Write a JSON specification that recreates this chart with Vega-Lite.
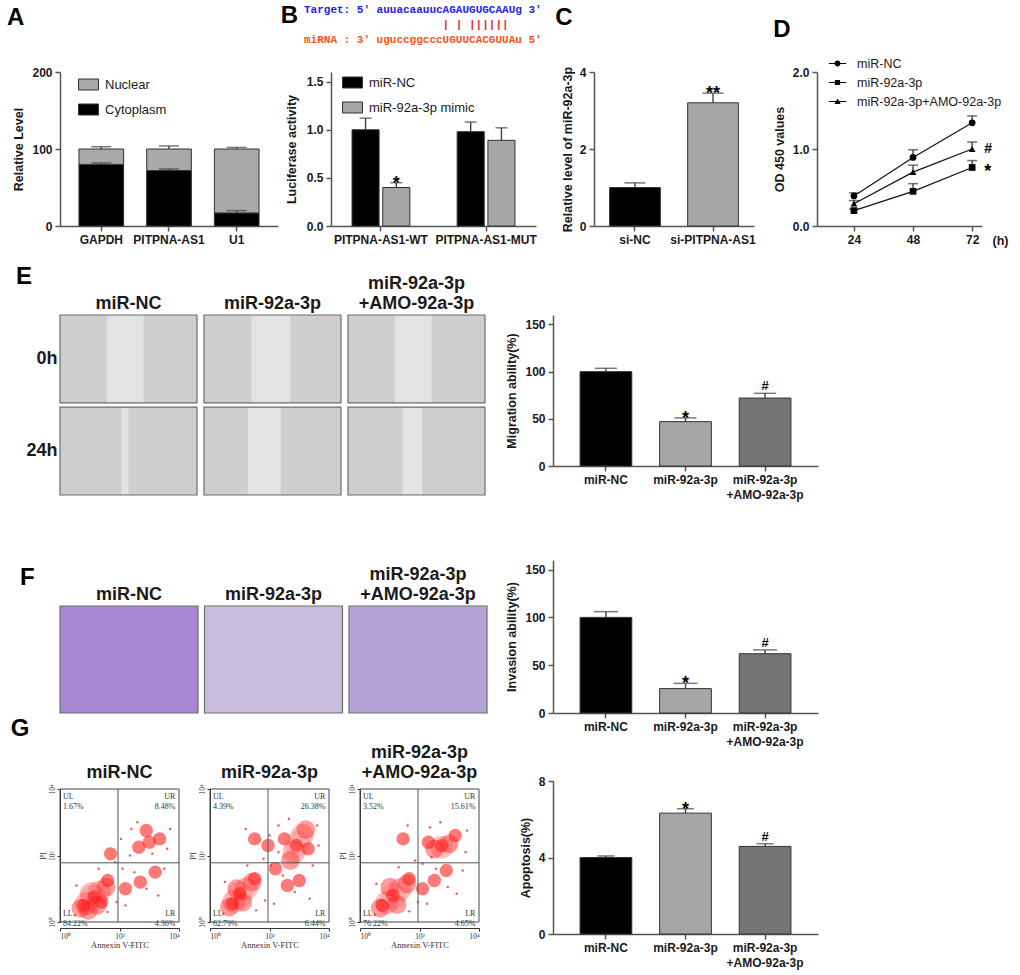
{
  "$schema": "https://vega.github.io/schema/vega-lite/v6.json",
  "padding": {"left": 6, "top": 4, "right": 2, "bottom": 2},
  "background": "white",
  "config": {
    "font": "Liberation Sans",
    "view": {"stroke": null},
    "axis": {"grid": false, "domainColor": "#555555", "tickColor": "#555555", "domainWidth": 1.5, "tickWidth": 1.5, "tickSize": 5, "labelFontWeight": "bold", "labelFontSize": 12, "labelColor": "#1a1a1a", "labelPadding": 3, "titleFontWeight": "bold", "titleFontSize": 12.5, "titleColor": "#1a1a1a", "titlePadding": 6},
    "axisX": {"labelAngle": 0},
    "legend": {"labelFontSize": 13, "labelColor": "#1a1a1a", "labelFontWeight": "normal"},
    "title": {"fontSize": 24, "fontWeight": "bold", "anchor": "start", "frame": "bounds", "color": "#000000"},
    "header": {"labelFontSize": 18, "labelFontWeight": "bold", "labelColor": "#1a1a1a"}
  },
  "datasets": {
    "frac": [
      {"gene": "GAPDH", "fraction": "Cytoplasm", "stack": 1, "level": 80, "top": 80, "upper": 82},
      {"gene": "GAPDH", "fraction": "Nuclear", "stack": 2, "level": 20, "top": 100, "upper": 103},
      {"gene": "PITPNA-AS1", "fraction": "Cytoplasm", "stack": 1, "level": 72, "top": 72, "upper": 74},
      {"gene": "PITPNA-AS1", "fraction": "Nuclear", "stack": 2, "level": 28, "top": 100, "upper": 104},
      {"gene": "U1", "fraction": "Cytoplasm", "stack": 1, "level": 17, "top": 17, "upper": 20},
      {"gene": "U1", "fraction": "Nuclear", "stack": 2, "level": 83, "top": 100, "upper": 102}
    ],
    "seq": [
      {"line": "target", "seq": "Target: 5' auuacaauucAGAUGUGCAAUg 3'"},
      {"line": "pairs", "seq": "| | ||||||"},
      {"line": "mirna", "seq": "miRNA : 3' uguccggcccUGUUCACGUUAu 5'"}
    ],
    "luc": [
      {"construct": "PITPNA-AS1-WT", "group": "miR-NC", "value": 1.0, "upper": 1.12, "sig": ""},
      {"construct": "PITPNA-AS1-WT", "group": "miR-92a-3p mimic", "value": 0.40, "upper": 0.45, "sig": "*"},
      {"construct": "PITPNA-AS1-MUT", "group": "miR-NC", "value": 0.98, "upper": 1.08, "sig": ""},
      {"construct": "PITPNA-AS1-MUT", "group": "miR-92a-3p mimic", "value": 0.89, "upper": 1.02, "sig": ""}
    ],
    "rel": [
      {"group": "si-NC", "value": 1.0, "upper": 1.12, "sig": ""},
      {"group": "si-PITPNA-AS1", "value": 3.2, "upper": 3.45, "sig": "**"}
    ],
    "od": [
      {"series": "miR-NC", "time": 24, "value": 0.39, "upper": 0.43, "sig": ""},
      {"series": "miR-NC", "time": 48, "value": 0.89, "upper": 0.99, "sig": ""},
      {"series": "miR-NC", "time": 72, "value": 1.34, "upper": 1.43, "sig": ""},
      {"series": "miR-92a-3p", "time": 24, "value": 0.20, "upper": 0.22, "sig": ""},
      {"series": "miR-92a-3p", "time": 48, "value": 0.45, "upper": 0.55, "sig": ""},
      {"series": "miR-92a-3p", "time": 72, "value": 0.76, "upper": 0.85, "sig": "*"},
      {"series": "miR-92a-3p+AMO-92a-3p", "time": 24, "value": 0.29, "upper": 0.33, "sig": ""},
      {"series": "miR-92a-3p+AMO-92a-3p", "time": 48, "value": 0.70, "upper": 0.79, "sig": ""},
      {"series": "miR-92a-3p+AMO-92a-3p", "time": 72, "value": 1.00, "upper": 1.09, "sig": "#"}
    ],
    "mig": [
      {"group": "miR-NC", "value": 100, "upper": 103.5, "sig": ""},
      {"group": "miR-92a-3p", "value": 47, "upper": 51, "sig": "*"},
      {"group": "miR-92a-3p +AMO-92a-3p", "value": 72, "upper": 77, "sig": "#"}
    ],
    "inv": [
      {"group": "miR-NC", "value": 100, "upper": 106, "sig": ""},
      {"group": "miR-92a-3p", "value": 25.5, "upper": 31, "sig": "*"},
      {"group": "miR-92a-3p +AMO-92a-3p", "value": 62, "upper": 66, "sig": "#"}
    ],
    "apo": [
      {"group": "miR-NC", "value": 4.0, "upper": 4.08, "sig": ""},
      {"group": "miR-92a-3p", "value": 6.32, "upper": 6.55, "sig": "*"},
      {"group": "miR-92a-3p +AMO-92a-3p", "value": 4.58, "upper": 4.72, "sig": "#"}
    ],
    "imgE": [
      {"group": "miR-NC", "time": "0h", "b0": 0.34, "b1": 0.61},
      {"group": "miR-92a-3p", "time": "0h", "b0": 0.345, "b1": 0.63},
      {"group": "miR-92a-3p +AMO-92a-3p", "time": "0h", "b0": 0.34, "b1": 0.61},
      {"group": "miR-NC", "time": "24h", "b0": 0.45, "b1": 0.5},
      {"group": "miR-92a-3p", "time": "24h", "b0": 0.32, "b1": 0.56},
      {"group": "miR-92a-3p +AMO-92a-3p", "time": "24h", "b0": 0.4, "b1": 0.54}
    ],
    "imgF": [
      {"group": "miR-NC"},
      {"group": "miR-92a-3p"},
      {"group": "miR-92a-3p +AMO-92a-3p"}
    ],
    "flow": [
      {"g": "miR-NC", "k": "quad", "x": 1.95, "y": 1.78},
      {"g": "miR-NC", "k": "lab", "side": "l", "x": 0.1, "y": 3.76, "t": "UL\n1.67%"},
      {"g": "miR-NC", "k": "lab", "side": "r", "x": 3.88, "y": 3.76, "t": "UR\n8.48%"},
      {"g": "miR-NC", "k": "lab", "side": "l", "x": 0.1, "y": 0.25, "t": "LL\n84.22%"},
      {"g": "miR-NC", "k": "lab", "side": "r", "x": 3.88, "y": 0.25, "t": "LR\n4.36%"},
      {"g": "miR-NC", "k": "dot", "d": "h", "x": 1.15, "y": 0.75},
      {"g": "miR-NC", "k": "dot", "d": "h", "x": 0.8, "y": 0.5},
      {"g": "miR-NC", "k": "dot", "d": "h", "x": 1.6, "y": 1.25},
      {"g": "miR-NC", "k": "dot", "d": "h", "x": 1.4, "y": 0.6},
      {"g": "miR-NC", "k": "dot", "d": "h", "x": 3.0, "y": 2.4},
      {"g": "miR-NC", "k": "dot", "d": "h", "x": 2.65, "y": 2.25},
      {"g": "miR-NC", "k": "dot", "d": "h", "x": 3.35, "y": 2.5},
      {"g": "miR-NC", "k": "dot", "d": "h", "x": 2.9, "y": 2.75},
      {"g": "miR-NC", "k": "dot", "d": "h", "x": 2.7, "y": 1.2},
      {"g": "miR-NC", "k": "dot", "d": "h", "x": 3.2, "y": 1.5},
      {"g": "miR-NC", "k": "dot", "d": "h", "x": 1.7, "y": 2.05},
      {"g": "miR-NC", "k": "dot", "d": "h", "x": 2.2, "y": 1.0},
      {"g": "miR-NC", "k": "dot", "d": "m", "x": 0.7, "y": 0.42},
      {"g": "miR-NC", "k": "dot", "d": "m", "x": 1.55, "y": 1.05},
      {"g": "miR-NC", "k": "dot", "d": "m", "x": 1.25, "y": 0.5},
      {"g": "miR-NC", "k": "dot", "d": "m", "x": 0.95, "y": 0.35},
      {"g": "miR-NC", "k": "dot", "d": "c", "x": 0.88, "y": 0.55},
      {"g": "miR-NC", "k": "dot", "d": "c", "x": 1.32, "y": 0.9},
      {"g": "miR-NC", "k": "dot", "d": "c", "x": 1.05, "y": 0.85},
      {"g": "miR-NC", "k": "dot", "d": "k", "x": 1.1, "y": 0.72},
      {"g": "miR-NC", "k": "dot", "d": "s", "x": 2.1, "y": 1.6},
      {"g": "miR-NC", "k": "dot", "d": "s", "x": 2.35, "y": 2.0},
      {"g": "miR-NC", "k": "dot", "d": "s", "x": 2.5, "y": 1.5},
      {"g": "miR-NC", "k": "dot", "d": "s", "x": 3.6, "y": 2.2},
      {"g": "miR-NC", "k": "dot", "d": "s", "x": 3.7, "y": 2.8},
      {"g": "miR-NC", "k": "dot", "d": "s", "x": 2.4, "y": 2.8},
      {"g": "miR-NC", "k": "dot", "d": "s", "x": 1.3, "y": 1.6},
      {"g": "miR-NC", "k": "dot", "d": "s", "x": 1.85, "y": 1.8},
      {"g": "miR-NC", "k": "dot", "d": "s", "x": 2.9, "y": 1.0},
      {"g": "miR-NC", "k": "dot", "d": "s", "x": 3.3, "y": 0.8},
      {"g": "miR-NC", "k": "dot", "d": "s", "x": 2.2, "y": 0.5},
      {"g": "miR-NC", "k": "dot", "d": "s", "x": 0.55, "y": 1.1},
      {"g": "miR-NC", "k": "dot", "d": "s", "x": 1.9, "y": 0.6},
      {"g": "miR-NC", "k": "dot", "d": "s", "x": 3.5, "y": 1.6},
      {"g": "miR-NC", "k": "dot", "d": "s", "x": 2.6, "y": 3.0},
      {"g": "miR-NC", "k": "dot", "d": "s", "x": 3.1, "y": 2.05},
      {"g": "miR-NC", "k": "dot", "d": "s", "x": 2.05, "y": 2.5},
      {"g": "miR-NC", "k": "dot", "d": "s", "x": 0.5, "y": 0.2},
      {"g": "miR-NC", "k": "dot", "d": "s", "x": 1.6, "y": 0.3},
      {"g": "miR-92a-3p", "k": "quad", "x": 1.95, "y": 1.78},
      {"g": "miR-92a-3p", "k": "lab", "side": "l", "x": 0.1, "y": 3.76, "t": "UL\n4.39%"},
      {"g": "miR-92a-3p", "k": "lab", "side": "r", "x": 3.88, "y": 3.76, "t": "UR\n26.38%"},
      {"g": "miR-92a-3p", "k": "lab", "side": "l", "x": 0.1, "y": 0.25, "t": "LL\n62.79%"},
      {"g": "miR-92a-3p", "k": "lab", "side": "r", "x": 3.88, "y": 0.25, "t": "LR\n6.44%"},
      {"g": "miR-92a-3p", "k": "dot", "d": "h", "x": 1.0, "y": 0.85},
      {"g": "miR-92a-3p", "k": "dot", "d": "h", "x": 0.75, "y": 0.55},
      {"g": "miR-92a-3p", "k": "dot", "d": "h", "x": 1.5, "y": 1.3},
      {"g": "miR-92a-3p", "k": "dot", "d": "h", "x": 2.9, "y": 2.3},
      {"g": "miR-92a-3p", "k": "dot", "d": "h", "x": 2.5, "y": 2.5},
      {"g": "miR-92a-3p", "k": "dot", "d": "h", "x": 3.3, "y": 2.2},
      {"g": "miR-92a-3p", "k": "dot", "d": "h", "x": 1.5, "y": 2.5},
      {"g": "miR-92a-3p", "k": "dot", "d": "h", "x": 1.95, "y": 2.3},
      {"g": "miR-92a-3p", "k": "dot", "d": "h", "x": 2.6, "y": 1.1},
      {"g": "miR-92a-3p", "k": "dot", "d": "h", "x": 3.0, "y": 1.25},
      {"g": "miR-92a-3p", "k": "dot", "d": "h", "x": 2.2, "y": 1.6},
      {"g": "miR-92a-3p", "k": "dot", "d": "m", "x": 0.65, "y": 0.45},
      {"g": "miR-92a-3p", "k": "dot", "d": "m", "x": 1.42, "y": 1.2},
      {"g": "miR-92a-3p", "k": "dot", "d": "m", "x": 1.1, "y": 0.6},
      {"g": "miR-92a-3p", "k": "dot", "d": "m", "x": 2.7, "y": 1.85},
      {"g": "miR-92a-3p", "k": "dot", "d": "m", "x": 3.22, "y": 2.78},
      {"g": "miR-92a-3p", "k": "dot", "d": "m", "x": 0.9, "y": 1.0},
      {"g": "miR-92a-3p", "k": "dot", "d": "c", "x": 0.8, "y": 0.62},
      {"g": "miR-92a-3p", "k": "dot", "d": "c", "x": 1.22, "y": 1.0},
      {"g": "miR-92a-3p", "k": "dot", "d": "c", "x": 3.1, "y": 2.6},
      {"g": "miR-92a-3p", "k": "dot", "d": "c", "x": 2.82, "y": 2.1},
      {"g": "miR-92a-3p", "k": "dot", "d": "k", "x": 1.0, "y": 0.82},
      {"g": "miR-92a-3p", "k": "dot", "d": "k", "x": 2.95, "y": 2.35},
      {"g": "miR-92a-3p", "k": "dot", "d": "s", "x": 2.05, "y": 1.7},
      {"g": "miR-92a-3p", "k": "dot", "d": "s", "x": 2.3, "y": 2.1},
      {"g": "miR-92a-3p", "k": "dot", "d": "s", "x": 2.45, "y": 1.4},
      {"g": "miR-92a-3p", "k": "dot", "d": "s", "x": 3.65, "y": 2.3},
      {"g": "miR-92a-3p", "k": "dot", "d": "s", "x": 3.6, "y": 2.9},
      {"g": "miR-92a-3p", "k": "dot", "d": "s", "x": 2.3, "y": 2.9},
      {"g": "miR-92a-3p", "k": "dot", "d": "s", "x": 1.25, "y": 1.7},
      {"g": "miR-92a-3p", "k": "dot", "d": "s", "x": 1.8, "y": 1.9},
      {"g": "miR-92a-3p", "k": "dot", "d": "s", "x": 2.85, "y": 0.9},
      {"g": "miR-92a-3p", "k": "dot", "d": "s", "x": 3.35, "y": 0.7},
      {"g": "miR-92a-3p", "k": "dot", "d": "s", "x": 2.15, "y": 0.55},
      {"g": "miR-92a-3p", "k": "dot", "d": "s", "x": 0.5, "y": 1.2},
      {"g": "miR-92a-3p", "k": "dot", "d": "s", "x": 1.85, "y": 0.65},
      {"g": "miR-92a-3p", "k": "dot", "d": "s", "x": 3.45, "y": 1.7},
      {"g": "miR-92a-3p", "k": "dot", "d": "s", "x": 2.65, "y": 3.1},
      {"g": "miR-92a-3p", "k": "dot", "d": "s", "x": 1.2, "y": 2.8},
      {"g": "miR-92a-3p", "k": "dot", "d": "s", "x": 2.0, "y": 2.6},
      {"g": "miR-92a-3p", "k": "dot", "d": "s", "x": 0.45, "y": 0.25},
      {"g": "miR-92a-3p", "k": "dot", "d": "s", "x": 1.55, "y": 0.35},
      {"g": "miR-92a-3p +AMO-92a-3p", "k": "quad", "x": 1.95, "y": 1.78},
      {"g": "miR-92a-3p +AMO-92a-3p", "k": "lab", "side": "l", "x": 0.1, "y": 3.76, "t": "UL\n3.52%"},
      {"g": "miR-92a-3p +AMO-92a-3p", "k": "lab", "side": "r", "x": 3.88, "y": 3.76, "t": "UR\n15.61%"},
      {"g": "miR-92a-3p +AMO-92a-3p", "k": "lab", "side": "l", "x": 0.1, "y": 0.25, "t": "LL\n76.22%"},
      {"g": "miR-92a-3p +AMO-92a-3p", "k": "lab", "side": "r", "x": 3.88, "y": 0.25, "t": "LR\n4.65%"},
      {"g": "miR-92a-3p +AMO-92a-3p", "k": "dot", "d": "h", "x": 1.1, "y": 0.8},
      {"g": "miR-92a-3p +AMO-92a-3p", "k": "dot", "d": "h", "x": 0.75, "y": 0.5},
      {"g": "miR-92a-3p +AMO-92a-3p", "k": "dot", "d": "h", "x": 1.65, "y": 1.3},
      {"g": "miR-92a-3p +AMO-92a-3p", "k": "dot", "d": "h", "x": 2.75, "y": 2.3},
      {"g": "miR-92a-3p +AMO-92a-3p", "k": "dot", "d": "h", "x": 3.2, "y": 2.6},
      {"g": "miR-92a-3p +AMO-92a-3p", "k": "dot", "d": "h", "x": 2.3, "y": 2.4},
      {"g": "miR-92a-3p +AMO-92a-3p", "k": "dot", "d": "h", "x": 1.45, "y": 2.5},
      {"g": "miR-92a-3p +AMO-92a-3p", "k": "dot", "d": "h", "x": 2.5, "y": 1.25},
      {"g": "miR-92a-3p +AMO-92a-3p", "k": "dot", "d": "h", "x": 2.9, "y": 1.55},
      {"g": "miR-92a-3p +AMO-92a-3p", "k": "dot", "d": "h", "x": 2.1, "y": 1.0},
      {"g": "miR-92a-3p +AMO-92a-3p", "k": "dot", "d": "m", "x": 0.68, "y": 0.42},
      {"g": "miR-92a-3p +AMO-92a-3p", "k": "dot", "d": "m", "x": 1.58, "y": 1.15},
      {"g": "miR-92a-3p +AMO-92a-3p", "k": "dot", "d": "m", "x": 1.25, "y": 0.52},
      {"g": "miR-92a-3p +AMO-92a-3p", "k": "dot", "d": "m", "x": 1.0, "y": 1.05},
      {"g": "miR-92a-3p +AMO-92a-3p", "k": "dot", "d": "m", "x": 2.5, "y": 2.2},
      {"g": "miR-92a-3p +AMO-92a-3p", "k": "dot", "d": "m", "x": 3.0, "y": 2.35},
      {"g": "miR-92a-3p +AMO-92a-3p", "k": "dot", "d": "c", "x": 0.9, "y": 0.58},
      {"g": "miR-92a-3p +AMO-92a-3p", "k": "dot", "d": "c", "x": 1.35, "y": 0.98},
      {"g": "miR-92a-3p +AMO-92a-3p", "k": "dot", "d": "c", "x": 2.75, "y": 2.25},
      {"g": "miR-92a-3p +AMO-92a-3p", "k": "dot", "d": "k", "x": 1.12, "y": 0.78},
      {"g": "miR-92a-3p +AMO-92a-3p", "k": "dot", "d": "s", "x": 2.1, "y": 1.75},
      {"g": "miR-92a-3p +AMO-92a-3p", "k": "dot", "d": "s", "x": 2.4, "y": 1.95},
      {"g": "miR-92a-3p +AMO-92a-3p", "k": "dot", "d": "s", "x": 2.55, "y": 1.6},
      {"g": "miR-92a-3p +AMO-92a-3p", "k": "dot", "d": "s", "x": 3.55, "y": 2.1},
      {"g": "miR-92a-3p +AMO-92a-3p", "k": "dot", "d": "s", "x": 3.6, "y": 2.75},
      {"g": "miR-92a-3p +AMO-92a-3p", "k": "dot", "d": "s", "x": 2.35, "y": 2.85},
      {"g": "miR-92a-3p +AMO-92a-3p", "k": "dot", "d": "s", "x": 1.3, "y": 1.65},
      {"g": "miR-92a-3p +AMO-92a-3p", "k": "dot", "d": "s", "x": 1.85, "y": 1.85},
      {"g": "miR-92a-3p +AMO-92a-3p", "k": "dot", "d": "s", "x": 2.95, "y": 1.05},
      {"g": "miR-92a-3p +AMO-92a-3p", "k": "dot", "d": "s", "x": 3.25, "y": 0.85},
      {"g": "miR-92a-3p +AMO-92a-3p", "k": "dot", "d": "s", "x": 2.25, "y": 0.55},
      {"g": "miR-92a-3p +AMO-92a-3p", "k": "dot", "d": "s", "x": 0.55, "y": 1.15},
      {"g": "miR-92a-3p +AMO-92a-3p", "k": "dot", "d": "s", "x": 1.95, "y": 0.6},
      {"g": "miR-92a-3p +AMO-92a-3p", "k": "dot", "d": "s", "x": 3.45, "y": 1.55},
      {"g": "miR-92a-3p +AMO-92a-3p", "k": "dot", "d": "s", "x": 2.7, "y": 3.0},
      {"g": "miR-92a-3p +AMO-92a-3p", "k": "dot", "d": "s", "x": 1.6, "y": 2.9},
      {"g": "miR-92a-3p +AMO-92a-3p", "k": "dot", "d": "s", "x": 0.5, "y": 0.22},
      {"g": "miR-92a-3p +AMO-92a-3p", "k": "dot", "d": "s", "x": 1.65, "y": 0.32}
    ]
  },
  "resolve": {"scale": {"color": "independent", "shape": "independent", "size": "independent", "opacity": "independent"}},
  "vconcat": [
    {
      "resolve": {"scale": {"color": "independent", "shape": "independent"}},
      "hconcat": [
        {
          "resolve": {"scale": {"color": "independent"}},
          "hconcat": [
            {
              "data": {"name": "frac"},
              "title": {"text": "A", "dx": -6, "offset": 36},
              "width": 218,
              "height": 154,
              "encoding": {"x": {"field": "gene", "type": "nominal", "sort": ["GAPDH", "PITPNA-AS1", "U1"], "title": null, "scale": {"paddingInner": 0.34, "paddingOuter": 0.28}}},
              "layer": [
                {
                  "mark": {"type": "bar", "stroke": "#333333", "strokeWidth": 1},
                  "encoding": {
                    "y": {"field": "level", "type": "quantitative", "stack": "zero", "scale": {"domain": [0, 200]}, "title": "Relative Level", "axis": {"values": [0, 50, 100, 150, 200]}},
                    "color": {"field": "fraction", "type": "nominal", "scale": {"domain": ["Nuclear", "Cytoplasm"], "range": ["#a9a9aa", "#000000"]}, "legend": {"title": null, "orient": "none", "legendX": 18, "legendY": 2, "symbolType": "M-1,-0.55H1V0.55H-1Z", "symbolSize": 400, "symbolStrokeColor": "#333333", "symbolStrokeWidth": 1, "rowPadding": 7, "labelOffset": 6}},
                    "order": {"field": "stack", "type": "quantitative"}
                  }
                },
                {"mark": {"type": "rule", "color": "#404040", "strokeWidth": 1.4}, "encoding": {"y": {"field": "top", "type": "quantitative"}, "y2": {"field": "upper"}}},
                {"mark": {"type": "tick", "color": "#404040", "thickness": 1.5, "size": 20}, "encoding": {"y": {"field": "upper", "type": "quantitative"}}}
              ]
            },
            {
              "title": {"text": "B", "orient": "left", "angle": 0, "anchor": "end", "baseline": "top", "align": "right", "offset": -30},
              "width": 205,
              "height": 154,
              "layer": [
                {
                  "data": {"name": "luc"},
                  "encoding": {
                    "x": {"field": "construct", "type": "nominal", "sort": ["PITPNA-AS1-WT", "PITPNA-AS1-MUT"], "title": null, "scale": {"paddingInner": 0.45, "paddingOuter": 0.2}},
                    "xOffset": {"field": "group", "type": "nominal", "sort": ["miR-NC", "miR-92a-3p mimic"], "scale": {"paddingInner": 0.12, "paddingOuter": 0}}
                  },
                  "layer": [
                    {
                      "mark": {"type": "bar", "stroke": "#333333", "strokeWidth": 1},
                      "encoding": {
                        "y": {"field": "value", "type": "quantitative", "scale": {"domain": [0, 1.5]}, "title": "Luciferase activity", "axis": {"values": [0, 0.5, 1, 1.5], "format": ".1f", "titlePadding": 8}},
                        "color": {"field": "group", "type": "nominal", "scale": {"domain": ["miR-NC", "miR-92a-3p mimic"], "range": ["#000000", "#a6a6a9"]}, "legend": {"title": null, "orient": "none", "legendX": 11, "legendY": 0, "symbolType": "M-1,-0.55H1V0.55H-1Z", "symbolSize": 400, "symbolStrokeColor": "#333333", "symbolStrokeWidth": 1, "rowPadding": 7, "labelOffset": 6}}
                      }
                    },
                    {"mark": {"type": "rule", "color": "#404040", "strokeWidth": 1.4}, "encoding": {"y": {"field": "value", "type": "quantitative"}, "y2": {"field": "upper"}}},
                    {"mark": {"type": "tick", "color": "#404040", "thickness": 1.5, "size": 12}, "encoding": {"y": {"field": "upper", "type": "quantitative"}}},
                    {"transform": [{"filter": "datum.sig != ''"}], "mark": {"type": "text", "fontSize": 18, "fontWeight": "bold", "baseline": "alphabetic", "dy": 6}, "encoding": {"y": {"field": "upper", "type": "quantitative"}, "text": {"field": "sig"}}}
                  ]
                },
                {
                  "data": {"name": "seq"},
                  "transform": [{"filter": "datum.line != 'pairs'"}],
                  "mark": {"type": "text", "font": "Liberation Mono", "fontWeight": "bold", "fontSize": 11, "align": "left", "baseline": "middle", "dx": -27},
                  "encoding": {
                    "x": {"value": 0},
                    "y": {"field": "line", "type": "ordinal", "axis": null, "scale": {"type": "point", "domain": ["target", "pairs", "mirna"], "padding": 0, "range": [-62, -32]}},
                    "text": {"field": "seq"},
                    "color": {"field": "line", "type": "nominal", "legend": null, "scale": {"domain": ["target", "pairs", "mirna"], "range": ["#2323e6", "#d62d2d", "#f2541d"]}}
                  }
                },
                {
                  "data": {"name": "seq"},
                  "transform": [{"filter": "datum.line == 'pairs'"}],
                  "mark": {"type": "text", "font": "Liberation Mono", "fontWeight": "bold", "fontSize": 11, "align": "right", "baseline": "middle", "dx": 177.6},
                  "encoding": {
                    "x": {"value": 0},
                    "y": {"field": "line", "type": "ordinal", "axis": null, "scale": {"type": "point", "domain": ["target", "pairs", "mirna"], "padding": 0, "range": [-62, -32]}},
                    "text": {"field": "seq"},
                    "color": {"field": "line", "type": "nominal", "legend": null, "scale": {"domain": ["target", "pairs", "mirna"], "range": ["#2323e6", "#d62d2d", "#f2541d"]}}
                  }
                }
              ],
              "resolve": {"scale": {"y": "independent", "color": "independent"}}
            }
          ],
          "spacing": 2
        },
        {
          "resolve": {"scale": {"color": "independent", "shape": "independent"}},
          "hconcat": [
            {
              "data": {"name": "rel"},
              "title": {"text": "C", "dx": -6, "offset": 36},
              "width": 160,
              "height": 154,
              "encoding": {"x": {"field": "group", "type": "nominal", "sort": ["si-NC", "si-PITPNA-AS1"], "title": null, "scale": {"paddingInner": 0.35, "paddingOuter": 0.2}}},
              "layer": [
                {
                  "mark": {"type": "bar", "stroke": "#333333", "strokeWidth": 1},
                  "encoding": {
                    "y": {"field": "value", "type": "quantitative", "scale": {"domain": [0, 4]}, "title": "Relative level of miR-92a-3p", "axis": {"values": [0, 1, 2, 3, 4], "titlePadding": 5}},
                    "color": {"field": "group", "type": "nominal", "legend": null, "scale": {"domain": ["si-NC", "si-PITPNA-AS1"], "range": ["#000000", "#a6a6a9"]}}
                  }
                },
                {"mark": {"type": "rule", "color": "#404040", "strokeWidth": 1.4}, "encoding": {"y": {"field": "value", "type": "quantitative"}, "y2": {"field": "upper"}}},
                {"mark": {"type": "tick", "color": "#404040", "thickness": 1.5, "size": 21}, "encoding": {"y": {"field": "upper", "type": "quantitative"}}},
                {"transform": [{"filter": "datum.sig != ''"}], "mark": {"type": "text", "fontSize": 18, "fontWeight": "bold", "baseline": "alphabetic", "dy": 6}, "encoding": {"y": {"field": "upper", "type": "quantitative"}, "text": {"field": "sig"}}}
              ]
            },
            {
              "data": {"name": "od"},
              "title": {"text": "D", "offset": 12},
              "width": 165,
              "height": 154,
              "encoding": {"x": {"field": "time", "type": "quantitative", "scale": {"domain": [9, 76]}, "axis": {"values": [24, 48, 72], "title": "(h)", "titleX": 175, "titleY": 8, "titleAlign": "left", "titleBaseline": "top", "titleAngle": 0}}},
              "layer": [
                {
                  "mark": {"type": "line", "color": "#111111", "strokeWidth": 1.2},
                  "encoding": {
                    "y": {"field": "value", "type": "quantitative", "scale": {"domain": [0, 2]}, "title": "OD 450 values", "axis": {"values": [0, 0.5, 1, 1.5, 2], "format": ".1f"}},
                    "detail": {"field": "series", "type": "nominal"}
                  }
                },
                {"mark": {"type": "rule", "color": "#333333", "strokeWidth": 1.3}, "encoding": {"y": {"field": "value", "type": "quantitative"}, "y2": {"field": "upper"}}},
                {"mark": {"type": "tick", "color": "#333333", "thickness": 1.5, "size": 10, "orient": "horizontal"}, "encoding": {"y": {"field": "upper", "type": "quantitative"}}},
                {
                  "mark": {"type": "point", "filled": true, "color": "#000000", "size": 45, "opacity": 1},
                  "encoding": {
                    "y": {"field": "value", "type": "quantitative"},
                    "shape": {"field": "series", "type": "nominal", "legend": null, "scale": {"domain": ["miR-NC", "miR-92a-3p", "miR-92a-3p+AMO-92a-3p"], "range": ["circle", "square", "triangle-up"]}}
                  }
                },
                {
                  "mark": {"type": "point", "filled": true, "color": "#000000", "opacity": 0},
                  "encoding": {
                    "y": {"field": "value", "type": "quantitative"},
                    "shape": {"field": "series", "type": "nominal", "scale": {"domain": ["miR-NC", "miR-92a-3p", "miR-92a-3p+AMO-92a-3p"], "range": ["M-1,-0.07H1V0.07H-1ZM0.34,0A0.34,0.34,0,1,1,-0.34,0A0.34,0.34,0,1,1,0.34,0Z", "M-1,-0.07H1V0.07H-1ZM-0.3,-0.3H0.3V0.3H-0.3Z", "M-1,-0.07H1V0.07H-1ZM0,-0.36L0.36,0.28H-0.36Z"]}, "legend": {"title": null, "orient": "none", "legendX": 11, "legendY": -18, "symbolSize": 300, "symbolOpacity": 1, "symbolFillColor": "#000000", "rowPadding": 3, "labelOffset": 10, "labelFontSize": 12.5, "encode": {"symbols": {"update": {"fill": {"value": "#000000"}, "opacity": {"value": 1}}}}}}
                  }
                },
                {"transform": [{"filter": "datum.sig == '#'"}], "mark": {"type": "text", "fontSize": 14, "fontWeight": "bold", "align": "left", "baseline": "middle", "dx": 12}, "encoding": {"y": {"field": "value", "type": "quantitative"}, "text": {"field": "sig"}}},
                {"transform": [{"filter": "datum.sig == '*'"}], "mark": {"type": "text", "fontSize": 18, "fontWeight": "bold", "align": "left", "baseline": "middle", "dx": 12, "dy": 5}, "encoding": {"y": {"field": "value", "type": "quantitative"}, "text": {"field": "sig"}}}
              ],
              "resolve": {"scale": {"shape": "independent"}}
            }
          ],
          "spacing": 17
        }
      ],
      "spacing": 13
    },
    {
      "resolve": {"scale": {"color": "independent", "size": "independent", "opacity": "independent"}},
      "hconcat": [
        {
          "resolve": {"scale": {"color": "independent", "size": "independent", "opacity": "independent"}},
          "vconcat": [
            {
              "data": {"name": "imgE"},
              "title": {"text": "E", "orient": "left", "angle": 0, "anchor": "end", "baseline": "top", "align": "right", "offset": -22, "dy": -10},
              "facet": {
                "column": {"field": "group", "type": "nominal", "sort": ["miR-NC", "miR-92a-3p", "miR-92a-3p +AMO-92a-3p"], "header": {"title": null, "labelExpr": "split(datum.label, ' ')", "labelFontSize": 18, "labelPadding": 1, "labelLineHeight": 20}}
              },
              "spacing": 5,
              "spec": {
                "width": 137,
                "height": 180,
                "encoding": {
                  "y": {"field": "time", "type": "nominal", "sort": ["0h", "24h"], "title": null, "scale": {"paddingInner": 0.045, "paddingOuter": 0}, "axis": {"domain": false, "ticks": false, "tickSize": 0, "labelFontSize": 18, "labelPadding": 2, "labelColor": "#1a1a1a"}}
                },
                "layer": [
                  {"mark": {"type": "rect", "color": "#cfcfcf"}, "encoding": {"x": {"datum": 0, "type": "quantitative", "scale": {"domain": [0, 1]}, "axis": null}, "x2": {"datum": 1}}},
                  {"mark": {"type": "rect", "color": "#e3e3e3"}, "encoding": {"x": {"field": "b0", "type": "quantitative"}, "x2": {"field": "b1"}}},
                  {"mark": {"type": "rect", "fill": "transparent", "stroke": "#6e6e6e", "strokeWidth": 1.2}, "encoding": {"x": {"datum": 0, "type": "quantitative"}, "x2": {"datum": 1}}}
                ]
              }
            },
            {
              "resolve": {"scale": {"color": "independent", "size": "independent", "opacity": "independent"}},
              "vconcat": [
                {
                  "data": {"name": "imgF"},
                  "title": {"text": "F", "orient": "left", "angle": 0, "anchor": "end", "baseline": "top", "align": "right", "offset": 10},
                  "facet": {
                    "column": {"field": "group", "type": "nominal", "sort": ["miR-NC", "miR-92a-3p", "miR-92a-3p +AMO-92a-3p"], "header": {"title": null, "labelExpr": "split(datum.label, ' ')", "labelFontSize": 18, "labelPadding": 1, "labelLineHeight": 20}}
                  },
                  "spacing": 4.5,
                  "spec": {
                    "width": 138,
                    "height": 107,
                    "layer": [
                      {"mark": {"type": "rect"}, "encoding": {"x": {"datum": 0, "type": "quantitative", "scale": {"domain": [0, 1]}, "axis": null}, "x2": {"datum": 1}, "color": {"field": "group", "type": "nominal", "legend": null, "scale": {"domain": ["miR-NC", "miR-92a-3p", "miR-92a-3p +AMO-92a-3p"], "range": ["#a886d1", "#c8bddd", "#b7a2d6"]}}}},
                      {"mark": {"type": "rect", "fill": "transparent", "stroke": "#6e6e6e", "strokeWidth": 1.2}, "encoding": {"x": {"datum": 0, "type": "quantitative"}, "x2": {"datum": 1}}}
                    ]
                  }
                },
                {
                  "data": {"name": "flow"},
                  "title": {"text": "G", "orient": "left", "angle": 0, "anchor": "end", "baseline": "top", "align": "right", "offset": -10, "dy": -27},
                  "facet": {
                    "column": {"field": "g", "type": "nominal", "sort": ["miR-NC", "miR-92a-3p", "miR-92a-3p +AMO-92a-3p"], "header": {"title": null, "labelExpr": "split(datum.label, ' ')", "labelFontSize": 18, "labelPadding": 1, "labelLineHeight": 20}}
                  },
                  "spacing": 8,
                  "spec": {
                    "width": 119,
                    "height": 133,
                    "layer": [
                      {
                        "transform": [{"filter": "datum.k == 'dot'"}],
                        "mark": {"type": "point", "filled": true, "color": "#ff1f1f", "strokeWidth": 0},
                        "encoding": {
                          "x": {"field": "x", "type": "quantitative", "scale": {"domain": [0, 4]}, "axis": {"values": [0, 1, 2, 3, 4], "labelOverlap": false, "labelExpr": "'10' + ['\u2070','\u00b9','\u00b2','\u00b3','\u2074'][datum.value]", "title": "Annexin V-FITC", "labelFont": "Liberation Serif", "labelFontWeight": "normal", "labelFontSize": 7.5, "titleFont": "Liberation Serif", "titleFontWeight": "normal", "titleFontSize": 8.5, "titlePadding": 1, "labelPadding": 1, "tickSize": 3, "domainWidth": 1, "tickWidth": 1, "domainColor": "#333333", "tickColor": "#333333", "labelColor": "#333333", "titleColor": "#333333"}},
                          "y": {"field": "y", "type": "quantitative", "scale": {"domain": [0, 4]}, "axis": {"values": [0, 1, 2, 3, 4], "labelOverlap": false, "labelExpr": "'10' + ['\u2070','\u00b9','\u00b2','\u00b3','\u2074'][datum.value]", "title": "PI", "labelAngle": -90, "labelFont": "Liberation Serif", "labelFontWeight": "normal", "labelFontSize": 7.5, "titleFont": "Liberation Serif", "titleFontWeight": "normal", "titleFontSize": 8.5, "titlePadding": 1, "labelPadding": 1, "tickSize": 3, "domainWidth": 1, "tickWidth": 1, "domainColor": "#333333", "tickColor": "#333333", "labelColor": "#333333", "titleColor": "#333333"}},
                          "size": {"field": "d", "type": "ordinal", "legend": null, "scale": {"domain": ["s", "h", "m", "c", "k"], "range": [6, 700, 380, 220, 130]}},
                          "opacity": {"field": "d", "type": "ordinal", "legend": null, "scale": {"domain": ["s", "h", "m", "c", "k"], "range": [0.75, 0.13, 0.3, 0.55, 0.95]}}
                        }
                      },
                      {"transform": [{"filter": "datum.k == 'quad'"}], "mark": {"type": "rule", "color": "#555555", "strokeWidth": 1}, "encoding": {"x": {"field": "x", "type": "quantitative"}}},
                      {"transform": [{"filter": "datum.k == 'quad'"}], "mark": {"type": "rule", "color": "#555555", "strokeWidth": 1}, "encoding": {"y": {"field": "y", "type": "quantitative"}}},
                      {"transform": [{"filter": "datum.k == 'lab' && datum.side == 'l'"}], "mark": {"type": "text", "font": "Liberation Serif", "fontSize": 8, "align": "left", "baseline": "middle", "lineBreak": "\n", "color": "#333333"}, "encoding": {"x": {"field": "x", "type": "quantitative"}, "y": {"field": "y", "type": "quantitative"}, "text": {"field": "t"}}},
                      {"transform": [{"filter": "datum.k == 'lab' && datum.side == 'r'"}], "mark": {"type": "text", "font": "Liberation Serif", "fontSize": 8, "align": "right", "baseline": "middle", "lineBreak": "\n", "color": "#333333"}, "encoding": {"x": {"field": "x", "type": "quantitative"}, "y": {"field": "y", "type": "quantitative"}, "text": {"field": "t"}}},
                      {"transform": [{"filter": "datum.k == 'quad'"}], "mark": {"type": "rect", "fill": "transparent", "stroke": "#444444", "strokeWidth": 1}, "encoding": {"x": {"datum": 0, "type": "quantitative"}, "x2": {"datum": 4}, "y": {"datum": 0, "type": "quantitative"}, "y2": {"datum": 4}}}
                    ]
                  },
                  "resolve": {"axis": {"y": "independent"}}
                }
              ],
              "spacing": 3
            }
          ],
          "spacing": 70
        },
        {
          "vconcat": [
            {
              "data": {"name": "mig"},
              "width": 265,
              "height": 151,
              "encoding": {"x": {"field": "group", "type": "nominal", "sort": ["miR-NC", "miR-92a-3p", "miR-92a-3p +AMO-92a-3p"], "title": null, "scale": {"paddingInner": 0.35, "paddingOuter": 0.34}, "axis": {"labelExpr": "split(datum.label, ' ')", "labelLineHeight": 15}}},
              "layer": [
                {
                  "mark": {"type": "bar", "stroke": "#333333", "strokeWidth": 1},
                  "encoding": {
                    "y": {"field": "value", "type": "quantitative", "scale": {"domain": [0, 150]}, "title": "Migration ability(%)", "axis": {"values": [0, 50, 100, 150]}},
                    "color": {"field": "group", "type": "nominal", "legend": null, "scale": {"domain": ["miR-NC", "miR-92a-3p", "miR-92a-3p +AMO-92a-3p"], "range": ["#000000", "#a6a6a9", "#747474"]}}
                  }
                },
                {"mark": {"type": "rule", "color": "#404040", "strokeWidth": 1.4}, "encoding": {"y": {"field": "value", "type": "quantitative"}, "y2": {"field": "upper"}}},
                {"mark": {"type": "tick", "color": "#404040", "thickness": 1.5, "size": 22}, "encoding": {"y": {"field": "upper", "type": "quantitative"}}},
                {"transform": [{"filter": "datum.sig == '*'"}], "mark": {"type": "text", "fontSize": 18, "fontWeight": "bold", "baseline": "alphabetic", "dy": 6}, "encoding": {"y": {"field": "upper", "type": "quantitative"}, "text": {"field": "sig"}}},
                {"transform": [{"filter": "datum.sig == '#'"}], "mark": {"type": "text", "fontSize": 13, "fontWeight": "bold", "baseline": "alphabetic", "dy": -3}, "encoding": {"y": {"field": "upper", "type": "quantitative"}, "text": {"field": "sig"}}}
              ]
            },
            {
              "vconcat": [
                {
                  "data": {"name": "inv"},
                  "width": 265,
                  "height": 153,
                  "encoding": {"x": {"field": "group", "type": "nominal", "sort": ["miR-NC", "miR-92a-3p", "miR-92a-3p +AMO-92a-3p"], "title": null, "scale": {"paddingInner": 0.35, "paddingOuter": 0.34}, "axis": {"labelExpr": "split(datum.label, ' ')", "labelLineHeight": 15}}},
                  "layer": [
                    {
                      "mark": {"type": "bar", "stroke": "#333333", "strokeWidth": 1},
                      "encoding": {
                        "y": {"field": "value", "type": "quantitative", "scale": {"domain": [0, 150]}, "title": "Invasion ability(%)", "axis": {"values": [0, 50, 100, 150]}},
                        "color": {"field": "group", "type": "nominal", "legend": null, "scale": {"domain": ["miR-NC", "miR-92a-3p", "miR-92a-3p +AMO-92a-3p"], "range": ["#000000", "#a6a6a9", "#747474"]}}
                      }
                    },
                    {"mark": {"type": "rule", "color": "#404040", "strokeWidth": 1.4}, "encoding": {"y": {"field": "value", "type": "quantitative"}, "y2": {"field": "upper"}}},
                    {"mark": {"type": "tick", "color": "#404040", "thickness": 1.5, "size": 24}, "encoding": {"y": {"field": "upper", "type": "quantitative"}}},
                    {"transform": [{"filter": "datum.sig == '*'"}], "mark": {"type": "text", "fontSize": 18, "fontWeight": "bold", "baseline": "alphabetic", "dy": 6}, "encoding": {"y": {"field": "upper", "type": "quantitative"}, "text": {"field": "sig"}}},
                    {"transform": [{"filter": "datum.sig == '#'"}], "mark": {"type": "text", "fontSize": 13, "fontWeight": "bold", "baseline": "alphabetic", "dy": -3}, "encoding": {"y": {"field": "upper", "type": "quantitative"}, "text": {"field": "sig"}}}
                  ]
                },
                {
                  "data": {"name": "apo"},
                  "width": 265,
                  "height": 153,
                  "encoding": {"x": {"field": "group", "type": "nominal", "sort": ["miR-NC", "miR-92a-3p", "miR-92a-3p +AMO-92a-3p"], "title": null, "scale": {"paddingInner": 0.35, "paddingOuter": 0.34}, "axis": {"labelExpr": "split(datum.label, ' ')", "labelLineHeight": 15}}},
                  "layer": [
                    {
                      "mark": {"type": "bar", "stroke": "#333333", "strokeWidth": 1},
                      "encoding": {
                        "y": {"field": "value", "type": "quantitative", "scale": {"domain": [0, 8]}, "title": "Apoptosis(%)", "axis": {"values": [0, 2, 4, 6, 8]}},
                        "color": {"field": "group", "type": "nominal", "legend": null, "scale": {"domain": ["miR-NC", "miR-92a-3p", "miR-92a-3p +AMO-92a-3p"], "range": ["#000000", "#a6a6a9", "#747474"]}}
                      }
                    },
                    {"mark": {"type": "rule", "color": "#404040", "strokeWidth": 1.4}, "encoding": {"y": {"field": "value", "type": "quantitative"}, "y2": {"field": "upper"}}},
                    {"mark": {"type": "tick", "color": "#404040", "thickness": 1.5, "size": 17}, "encoding": {"y": {"field": "upper", "type": "quantitative"}}},
                    {"transform": [{"filter": "datum.sig == '*'"}], "mark": {"type": "text", "fontSize": 18, "fontWeight": "bold", "baseline": "alphabetic", "dy": 6}, "encoding": {"y": {"field": "upper", "type": "quantitative"}, "text": {"field": "sig"}}},
                    {"transform": [{"filter": "datum.sig == '#'"}], "mark": {"type": "text", "fontSize": 13, "fontWeight": "bold", "baseline": "alphabetic", "dy": -3}, "encoding": {"y": {"field": "upper", "type": "quantitative"}, "text": {"field": "sig"}}}
                  ]
                }
              ],
              "spacing": 28
            }
          ],
          "spacing": 60
        }
      ],
      "spacing": 17
    }
  ],
  "spacing": 18
}
